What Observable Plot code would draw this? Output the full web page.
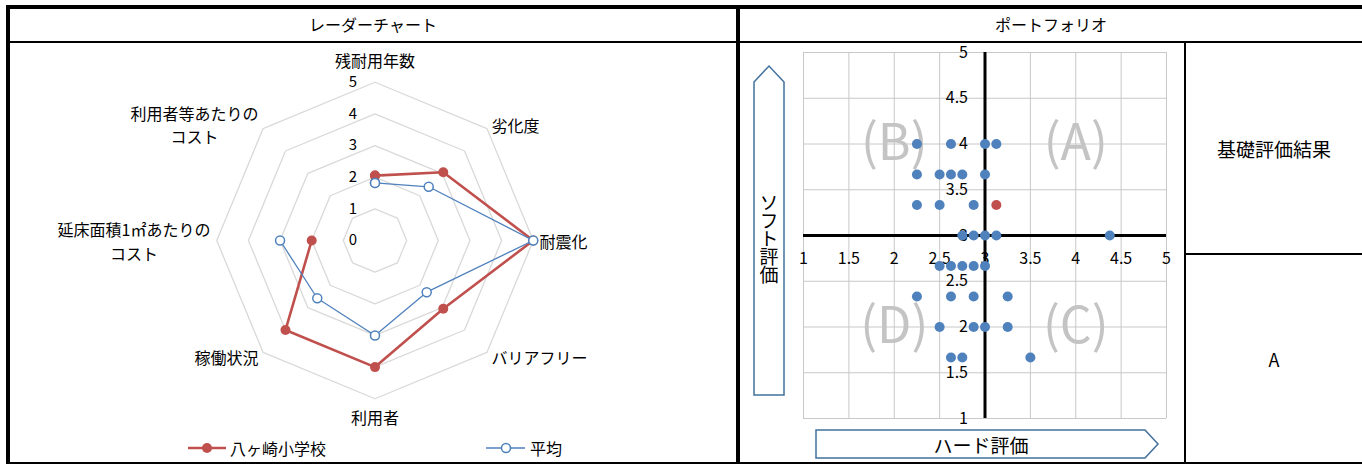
<!DOCTYPE html>
<html>
<head>
<meta charset="utf-8">
<script src="https://cdn.jsdelivr.net/npm/d3@7"></script>
<script src="https://cdn.jsdelivr.net/npm/@observablehq/plot@0.6"></script>
<style>
  body { margin: 0; background: #fff; font-family: "Noto Sans CJK JP", sans-serif; }
  #wrap { position: relative; width: 1362px; height: 464px; overflow: hidden; background: #fff; }
  .b { position: absolute; background: #000; z-index: 5; }
  .t { position: absolute; color: #000; white-space: nowrap; transform: translate(-50%, -50%); z-index: 6; }
  .l { position: absolute; color: #000; white-space: nowrap; transform: translate(0, -50%); font-size: 16px; }
  #radar, #scatter { position: absolute; }
  #radar { left: 8px; top: 43px; }
  #scatter { left: 740px; top: 42px; }
  #deco { position: absolute; left: 0; top: 0; z-index: 3; }
</style>
</head>
<body>
<div id="wrap">
  <div id="radar"></div>
  <div id="scatter"></div>
  <svg id="deco" width="1362" height="464">
    <path d="M754,82 L769,66 L784,82 L784,395 L754,395 Z" fill="#fff" stroke="#41719c" stroke-width="1.5"/>
    <path d="M816,430 L1145,430 L1158,444 L1145,458 L816,458 Z" fill="#fff" stroke="#41719c" stroke-width="1.5"/>
    <line x1="188" y1="448" x2="226" y2="448" stroke="#c0504d" stroke-width="2.5"/>
    <circle cx="207" cy="448" r="5" fill="#c0504d"/>
    <line x1="486" y1="448" x2="525" y2="448" stroke="#4f81bd" stroke-width="1.3"/>
    <circle cx="506" cy="448" r="4.5" fill="#fff" stroke="#4f81bd" stroke-width="1.5"/>
  </svg>

  <div class="b" style="left:6px;top:5px;width:1356px;height:4px"></div>
  <div class="b" style="left:6px;top:5px;width:4px;height:459px"></div>
  <div class="b" style="left:6px;top:41px;width:1356px;height:2px"></div>
  <div class="b" style="left:736px;top:5px;width:4px;height:459px"></div>
  <div class="b" style="left:6px;top:462px;width:1356px;height:2px"></div>
  <div class="b" style="left:1184px;top:42px;width:2px;height:422px"></div>
  <div class="b" style="left:1184px;top:253px;width:178px;height:2px"></div>

  <div class="t" id="title1" style="left:373px;top:24px;font-size:16px"></div>
  <div class="t" id="title2" style="left:1051px;top:24px;font-size:16px"></div>
  <div class="t" id="resultHead" style="left:1274px;top:148px;font-size:19px"></div>
  <div class="t" id="resultVal" style="left:1274px;top:359px;font-size:18px"></div>
  <div class="t" id="softLabel" style="left:769px;top:238px;font-size:19px;writing-mode:vertical-rl;text-orientation:upright;letter-spacing:-1px"></div>
  <div class="t" id="hardLabel" style="left:981px;top:444px;font-size:19px"></div>
  <div class="l" id="leg1" style="left:230px;top:448px"></div>
  <div class="l" id="leg2" style="left:530px;top:448px"></div>
</div>
<script>
// ---------- data ----------
const radarTitle = "レーダーチャート";
const portfolioTitle = "ポートフォリオ";
const radarCategories = ["残耐用年数", "劣化度", "耐震化", "バリアフリー", "利用者", "稼働状況", "延床面積1㎡あたりの\nコスト", "利用者等あたりの\nコスト"];
const schoolName = "八ヶ崎小学校";
const schoolValues = [2.05, 3.05, 5, 3.05, 4, 4, 2, null];
const averageName = "平均";
const averageValues = [1.82, 2.4, 5, 2.31, 3, 2.58, 3, null];
const ringTicks = [0, 1, 2, 3, 4, 5];

const hardLabel = "ハード評価";
const softLabel = "ソフト評価";
const hardScores = [2.25, 2.625, 3, 3.125, 2.25, 2.5, 2.625, 2.75, 3, 2.25, 2.5, 2.875, 2.75, 2.875, 3, 3.125, 4.375,
                    2.5, 2.625, 2.75, 2.875, 3, 2.25, 2.625, 2.875, 3.25, 2.5, 2.875, 3, 3.25, 2.625, 2.75, 3.5];
const softScores = [4, 4, 4, 4, 3.667, 3.667, 3.667, 3.667, 3.667, 3.333, 3.333, 3.333, 3, 3, 3, 3, 3,
                    2.667, 2.667, 2.667, 2.667, 2.667, 2.333, 2.333, 2.333, 2.333, 2, 2, 2, 2, 1.667, 1.667, 1.667];
const targetHard = [3.125];
const targetSoft = [3.333];
const axisTicks = [1, 1.5, 2, 2.5, 3, 3.5, 4, 4.5, 5];
const axisDomain = [1, 5];
const axisCross = 3;
const quadrantNames = ["(A)", "(B)", "(C)", "(D)"];
const resultHead = "基礎評価結果";
const resultValue = "A";

// ---------- texts ----------
document.getElementById("title1").textContent = radarTitle;
document.getElementById("title2").textContent = portfolioTitle;
document.getElementById("resultHead").textContent = resultHead;
document.getElementById("resultVal").textContent = resultValue;
document.getElementById("softLabel").textContent = softLabel;
document.getElementById("hardLabel").textContent = hardLabel;
document.getElementById("leg1").textContent = schoolName;
document.getElementById("leg2").textContent = averageName;

const FONT = '"Noto Sans CJK JP", sans-serif';
const RED = "#c0504d", BLUE = "#4f81bd";

// ---------- radar ----------
const K = 31.65;              // px per unit
const RW = 728, RH = 419, CX = 366.5, CY = 197;
const n = radarCategories.length;
const ang = i => i * 2 * Math.PI / n;
const px = (i, v) => v * Math.sin(ang(i));
const py = (i, v) => v * Math.cos(ang(i));
function seriesPts(vals) {
  const pts = vals.map((v, i) => ({i, v, x: v == null ? NaN : px(i, v), y: v == null ? NaN : py(i, v)}));
  pts.push({...pts[0]});
  return pts;
}
const schoolPts = seriesPts(schoolValues);
const avgPts = seriesPts(averageValues);
const rings = ringTicks.filter(t => t > 0).flatMap(t => d3.range(n + 1).map(k => ({t, x: px(k % n, t), y: py(k % n, t)})));

const ctx = document.createElement("canvas").getContext("2d");
ctx.font = `16px ${FONT}`;
const labels = radarCategories.map((c, i) => {
  const s = Math.sin(ang(i)), co = Math.cos(ang(i));
  const w = d3.max(c.split("\n"), line => ctx.measureText(line).width);
  if (Math.abs(s) < 0.1) { const r = co > 0 ? 5.72 : 5.55; return {c, x: px(i, r), y: py(i, r)}; }
  const r = 5.2;
  return {c, x: px(i, r) + Math.sign(s) * (w / 2) / K, y: py(i, r)};
});

const radar = Plot.plot({
  width: RW, height: RH, margin: 0,
  style: {background: "transparent", fontFamily: FONT, fontSize: "16px", color: "#000"},
  x: {domain: [-CX / K, (RW - CX) / K], axis: null},
  y: {domain: [-(RH - CY) / K, CY / K], axis: null},
  marks: [
    Plot.line(rings, {x: "x", y: "y", z: "t", stroke: "#d9d9d9", strokeWidth: 1.3}),
    Plot.text(ringTicks, {x: () => 0, y: d => d, text: d => String(d), dx: -22, fill: "#000", fontSize: 15}),
    Plot.line(schoolPts, {x: "x", y: "y", stroke: RED, strokeWidth: 2.6}),
    Plot.dot(schoolPts.filter(d => d.v != null), {x: "x", y: "y", r: 5, fill: RED}),
    Plot.line(avgPts, {x: "x", y: "y", stroke: BLUE, strokeWidth: 1.3}),
    Plot.dot(avgPts.filter(d => d.v != null), {x: "x", y: "y", r: 4.5, fill: "white", stroke: BLUE, strokeWidth: 1.5}),
    Plot.text(labels, {x: "x", y: "y", text: "c", textAnchor: "middle", lineHeight: 1.45, fill: "#000", fontSize: 16})
  ]
});
document.getElementById("radar").appendChild(radar);

// ---------- scatter ----------
const mid = (a, b) => (a + b) / 2;
const qx = [mid(axisCross, axisDomain[1]), mid(axisDomain[0], axisCross), mid(axisCross, axisDomain[1]), mid(axisDomain[0], axisCross)];
const qy = [mid(axisCross, axisDomain[1]), mid(axisCross, axisDomain[1]), mid(axisDomain[0], axisCross), mid(axisDomain[0], axisCross)];
const quadrants = quadrantNames.map((q, i) => ({q, x: qx[i], y: qy[i]}));
const pts = hardScores.map((h, i) => ({h, s: softScores[i]}));
const target = targetHard.map((h, i) => ({h, s: targetSoft[i]}));

const scatter = Plot.plot({
  width: 440, height: 420,
  marginLeft: 63, marginRight: 14, marginTop: 10, marginBottom: 44,
  style: {background: "transparent", fontFamily: FONT, fontSize: "16px", color: "#000", overflow: "visible"},
  x: {domain: axisDomain, axis: null},
  y: {domain: axisDomain, axis: null},
  marks: [
    Plot.ruleX(axisTicks, {stroke: "#c8c8c8", strokeWidth: 1}),
    Plot.ruleY(axisTicks, {stroke: "#c8c8c8", strokeWidth: 1}),
    Plot.text(quadrants, {x: "x", y: "y", text: "q", fontSize: 50, fontWeight: 400, fill: "#c4c4c4"}),
    Plot.ruleX([axisCross], {stroke: "#000", strokeWidth: 3}),
    Plot.ruleY([axisCross], {stroke: "#000", strokeWidth: 3}),
    Plot.text(axisTicks, {x: d => d, y: () => axisCross, dy: 23, text: d => String(d), fill: "#000", fontSize: 16}),
    Plot.text(axisTicks, {x: () => axisCross, y: d => d, dx: -17, textAnchor: "end", text: d => String(d), fill: "#000", fontSize: 16}),
    Plot.dot(pts, {x: "h", y: "s", r: 5, fill: BLUE}),
    Plot.dot(target, {x: "h", y: "s", r: 5, fill: RED})
  ]
});
document.getElementById("scatter").appendChild(scatter);
</script>
</body>
</html>
